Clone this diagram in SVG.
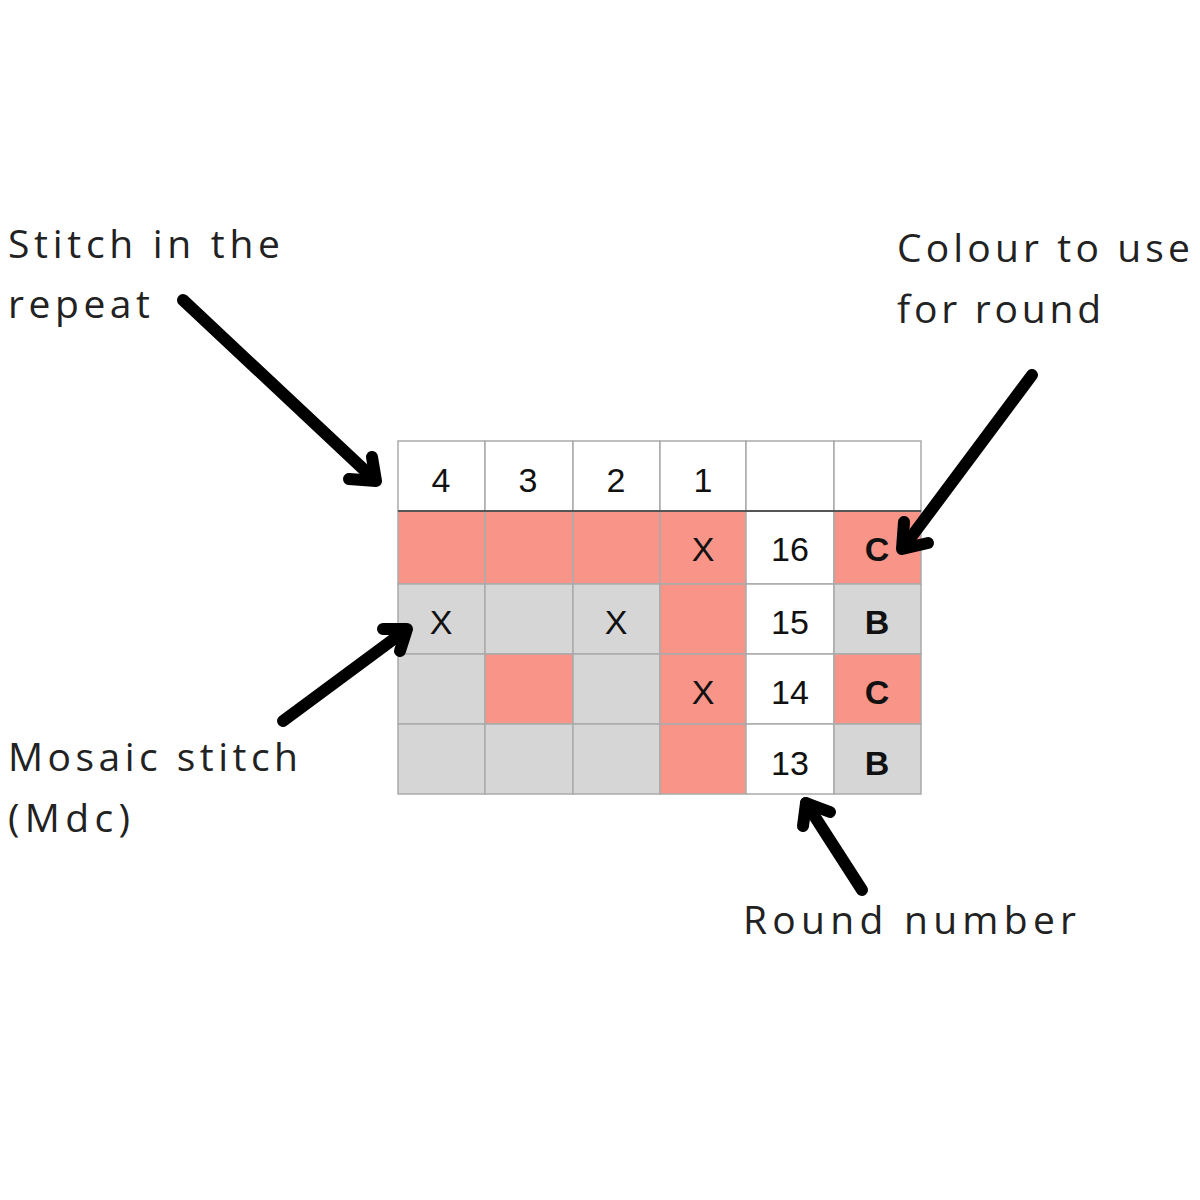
<svg xmlns="http://www.w3.org/2000/svg" width="1200" height="1200" viewBox="0 0 1200 1200">
<style>
.lbl{font-family:"Open Sans","Liberation Sans",sans-serif;font-size:39px;fill:#222}
.cell{stroke:#aaaaaa;stroke-width:1.5}
.w{fill:#ffffff}.r{fill:#f99489}.g{fill:#d6d6d6}
.t{font-family:"Liberation Sans",Arial,sans-serif;font-size:34px;fill:#111;text-anchor:middle}
.b{font-weight:bold;font-size:34px}
.arr{fill:none;stroke:#000;stroke-width:12;stroke-linecap:round;stroke-linejoin:round}
</style>
<rect width="1200" height="1200" fill="#fff"/>
<g id="grid">
<rect class="cell w" x="398" y="441" width="87" height="70"/>
<rect class="cell w" x="485" y="441" width="88" height="70"/>
<rect class="cell w" x="573" y="441" width="87" height="70"/>
<rect class="cell w" x="660" y="441" width="86" height="70"/>
<rect class="cell w" x="746" y="441" width="88" height="70"/>
<rect class="cell w" x="834" y="441" width="87" height="70"/>
<rect class="cell r" x="398" y="511" width="87" height="73"/>
<rect class="cell r" x="485" y="511" width="88" height="73"/>
<rect class="cell r" x="573" y="511" width="87" height="73"/>
<rect class="cell r" x="660" y="511" width="86" height="73"/>
<rect class="cell w" x="746" y="511" width="88" height="73"/>
<rect class="cell r" x="834" y="511" width="87" height="73"/>
<rect class="cell g" x="398" y="584" width="87" height="70"/>
<rect class="cell g" x="485" y="584" width="88" height="70"/>
<rect class="cell g" x="573" y="584" width="87" height="70"/>
<rect class="cell r" x="660" y="584" width="86" height="70"/>
<rect class="cell w" x="746" y="584" width="88" height="70"/>
<rect class="cell g" x="834" y="584" width="87" height="70"/>
<rect class="cell g" x="398" y="654" width="87" height="70"/>
<rect class="cell r" x="485" y="654" width="88" height="70"/>
<rect class="cell g" x="573" y="654" width="87" height="70"/>
<rect class="cell r" x="660" y="654" width="86" height="70"/>
<rect class="cell w" x="746" y="654" width="88" height="70"/>
<rect class="cell r" x="834" y="654" width="87" height="70"/>
<rect class="cell g" x="398" y="724" width="87" height="70"/>
<rect class="cell g" x="485" y="724" width="88" height="70"/>
<rect class="cell g" x="573" y="724" width="87" height="70"/>
<rect class="cell r" x="660" y="724" width="86" height="70"/>
<rect class="cell w" x="746" y="724" width="88" height="70"/>
<rect class="cell g" x="834" y="724" width="87" height="70"/>
<line x1="398" y1="511" x2="921" y2="511" stroke="#555" stroke-width="2"/>
<text class="t" x="441" y="492">4</text>
<text class="t" x="528" y="492">3</text>
<text class="t" x="616" y="492">2</text>
<text class="t" x="703" y="492">1</text>
<text class="t" x="703" y="561">X</text>
<text class="t" x="790" y="561">16</text>
<text class="t b" x="877" y="561">C</text>
<text class="t" x="441" y="634">X</text>
<text class="t" x="616" y="634">X</text>
<text class="t" x="790" y="634">15</text>
<text class="t b" x="877" y="634">B</text>
<text class="t" x="703" y="704">X</text>
<text class="t" x="790" y="704">14</text>
<text class="t b" x="877" y="704">C</text>
<text class="t" x="790" y="775">13</text>
<text class="t b" x="877" y="775">B</text>
</g>
<g id="labels">
<text class="lbl" x="8" y="258" textLength="272" lengthAdjust="spacing">Stitch in the</text>
<text class="lbl" x="8" y="318" textLength="142" lengthAdjust="spacing">repeat</text>
<text class="lbl" x="897" y="262" textLength="293" lengthAdjust="spacing">Colour to use</text>
<text class="lbl" x="897" y="323" textLength="204" lengthAdjust="spacing">for round</text>
<text class="lbl" x="8" y="771" textLength="290" lengthAdjust="spacing">Mosaic stitch</text>
<text class="lbl" x="8" y="832" textLength="122" lengthAdjust="spacing">(Mdc)</text>
<text class="lbl" x="743" y="934" textLength="333" lengthAdjust="spacing">Round number</text>
</g>
<g id="connectors">
<line class="arr" x1="183" y1="300" x2="375" y2="480"/>
<polyline class="arr" points="349,479 376,481 372,457"/>
<line class="arr" x1="283" y1="721" x2="406" y2="630"/>
<polyline class="arr" points="383,629 407,629 400,651"/>
<line class="arr" x1="1032" y1="375" x2="903" y2="548"/>
<polyline class="arr" points="904,522 902,549 928,543"/>
<line class="arr" x1="862" y1="890" x2="806" y2="803"/>
<polyline class="arr" points="830,812 806,803 803,826"/>
</g>
</svg>
